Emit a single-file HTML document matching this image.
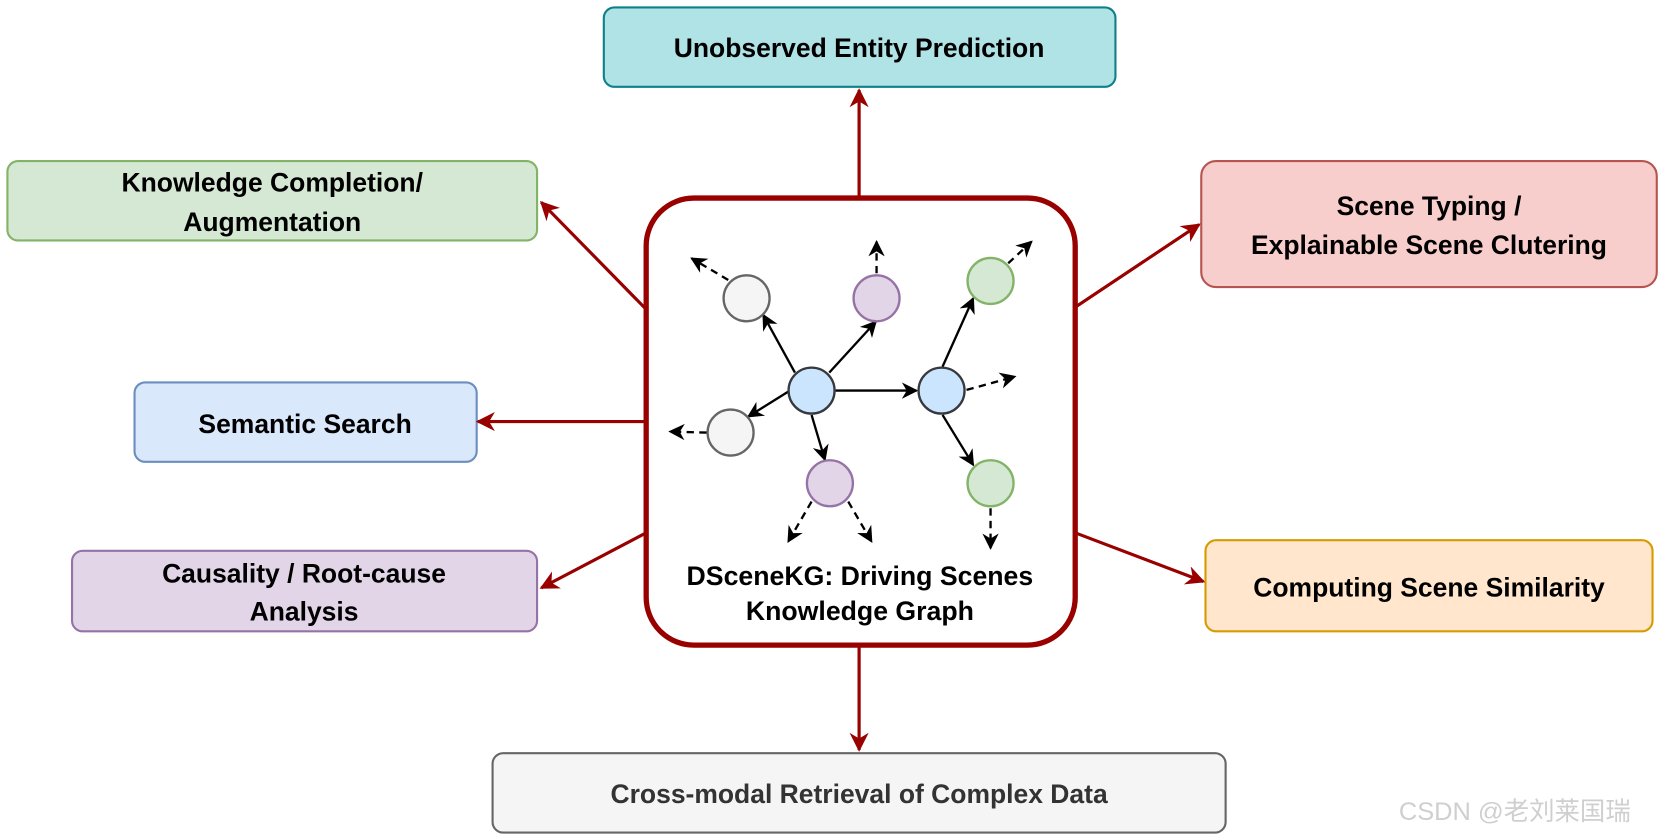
<!DOCTYPE html>
<html><head><meta charset="utf-8"><style>
html,body{margin:0;padding:0;background:#fff;}
svg{display:block;}
text{font-family:"Liberation Sans",Arial,sans-serif;font-weight:bold;fill:#000;text-anchor:middle;}
</style></head><body>
<svg width="1661" height="840" viewBox="0 0 1568 793" preserveAspectRatio="none" xmlns="http://www.w3.org/2000/svg">
<defs>
<marker id="ra" viewBox="0 0 10 10" refX="9" refY="5" markerWidth="6" markerHeight="6" orient="auto" markerUnits="strokeWidth">
<path d="M0,0 L10,5 L0,10 L3,5 z" fill="#990000"/></marker>
<marker id="ba" viewBox="0 0 10 10" refX="9" refY="5" markerWidth="7" markerHeight="7" orient="auto" markerUnits="strokeWidth">
<path d="M0,0 L10,5 L0,10 L3,5 z" fill="#000"/></marker>
</defs>
<rect x="0" y="0" width="1568" height="793" fill="#fff"/>
<!-- outer boxes -->
<rect x="570" y="7" width="483" height="75" rx="10" fill="#b0e3e6" stroke="#0e8088" stroke-width="2"/>
<text x="811" y="54" font-size="25">Unobserved Entity Prediction</text>
<rect x="7" y="152" width="500" height="75" rx="10" fill="#d5e8d4" stroke="#82b366" stroke-width="2"/>
<text x="257" y="181" font-size="25">Knowledge Completion/</text>
<text x="257" y="218" font-size="25">Augmentation</text>
<rect x="127" y="361" width="323" height="75" rx="10" fill="#dae8fc" stroke="#6c8ebf" stroke-width="2"/>
<text x="288" y="409" font-size="25">Semantic Search</text>
<rect x="68" y="520" width="439" height="76" rx="10" fill="#e1d5e7" stroke="#9673a6" stroke-width="2"/>
<text x="287" y="550" font-size="25">Causality / Root-cause</text>
<text x="287" y="586" font-size="25">Analysis</text>
<rect x="1134" y="152" width="430" height="119" rx="14" fill="#f8cecc" stroke="#b85450" stroke-width="2"/>
<text x="1349" y="203" font-size="25">Scene Typing /</text>
<text x="1349" y="240" font-size="25">Explainable Scene Clutering</text>
<rect x="1138" y="510" width="422" height="86" rx="10" fill="#ffe6cc" stroke="#d79b00" stroke-width="2"/>
<text x="1349" y="563" font-size="25">Computing Scene Similarity</text>
<rect x="465" y="711" width="692" height="75" rx="10" fill="#f5f5f5" stroke="#666" stroke-width="2"/>
<text x="811" y="758" font-size="25" fill="#333" style="fill:#333">Cross-modal Retrieval of Complex Data</text>
<!-- red arrows -->
<g stroke="#990000" stroke-width="3" fill="none">
<line x1="811" y1="187" x2="811" y2="85" marker-end="url(#ra)"/>
<line x1="610" y1="292" x2="511" y2="191" marker-end="url(#ra)"/>
<line x1="610" y1="398" x2="451" y2="398" marker-end="url(#ra)"/>
<line x1="610" y1="503" x2="511" y2="555" marker-end="url(#ra)"/>
<line x1="1015" y1="290" x2="1132" y2="212" marker-end="url(#ra)"/>
<line x1="1015" y1="503" x2="1136" y2="549" marker-end="url(#ra)"/>
<line x1="811" y1="609" x2="811" y2="708" marker-end="url(#ra)"/>
</g>
<rect x="610" y="187" width="405" height="422" rx="45" fill="#fff" stroke="#990000" stroke-width="5"/>
<!-- inner graph -->
<g transform="scale(0.9439) translate(600,180) scale(0.33333)">
<g stroke="#000" stroke-width="7" fill="none">
<line x1="585" y1="578" x2="490" y2="405" marker-end="url(#ba)"/>
<line x1="688" y1="578" x2="828" y2="425" marker-end="url(#ba)"/>
<line x1="707" y1="632" x2="950" y2="632" marker-end="url(#ba)"/>
<line x1="565" y1="635" x2="445" y2="710" marker-end="url(#ba)"/>
<line x1="635" y1="705" x2="675" y2="840" marker-end="url(#ba)"/>
<line x1="1028" y1="560" x2="1120" y2="355" marker-end="url(#ba)"/>
<line x1="1028" y1="705" x2="1120" y2="855" marker-end="url(#ba)"/>
</g>
<g stroke="#000" stroke-width="7" fill="none" stroke-dasharray="22,16">
<line x1="385" y1="300" x2="275" y2="235" marker-end="url(#ba)"/>
<line x1="830" y1="280" x2="830" y2="185" marker-end="url(#ba)"/>
<line x1="1225" y1="250" x2="1295" y2="185" marker-end="url(#ba)"/>
<line x1="1100" y1="630" x2="1245" y2="590" marker-end="url(#ba)"/>
<line x1="320" y1="758" x2="210" y2="755" marker-end="url(#ba)"/>
<line x1="635" y1="965" x2="565" y2="1085" marker-end="url(#ba)"/>
<line x1="745" y1="965" x2="815" y2="1085" marker-end="url(#ba)"/>
<line x1="1172" y1="985" x2="1172" y2="1105" marker-end="url(#ba)"/>
</g>
<g stroke-width="7">
<circle cx="635" cy="632" r="69" fill="#cce5ff" stroke="#36393d"/>
<circle cx="1025" cy="632" r="69" fill="#cce5ff" stroke="#36393d"/>
<circle cx="440" cy="355" r="69" fill="#f5f5f5" stroke="#666"/>
<circle cx="392" cy="758" r="69" fill="#f5f5f5" stroke="#666"/>
<circle cx="830" cy="355" r="69" fill="#e1d5e7" stroke="#9673a6"/>
<circle cx="690" cy="910" r="69" fill="#e1d5e7" stroke="#9673a6"/>
<circle cx="1172" cy="303" r="69" fill="#d5e8d4" stroke="#82b366"/>
<circle cx="1172" cy="910" r="69" fill="#d5e8d4" stroke="#82b366"/>
</g>
<text x="780" y="1215" font-size="80">DSceneKG: Driving Scenes</text>
<text x="780" y="1320" font-size="80">Knowledge Graph</text>
</g>
<text x="1430" y="774" font-size="24" style="font-weight:normal;fill:#cfcfcf;font-family:'Liberation Sans','Noto Sans CJK SC',sans-serif">CSDN @老刘莱国瑞</text>
</svg>
</body></html>
